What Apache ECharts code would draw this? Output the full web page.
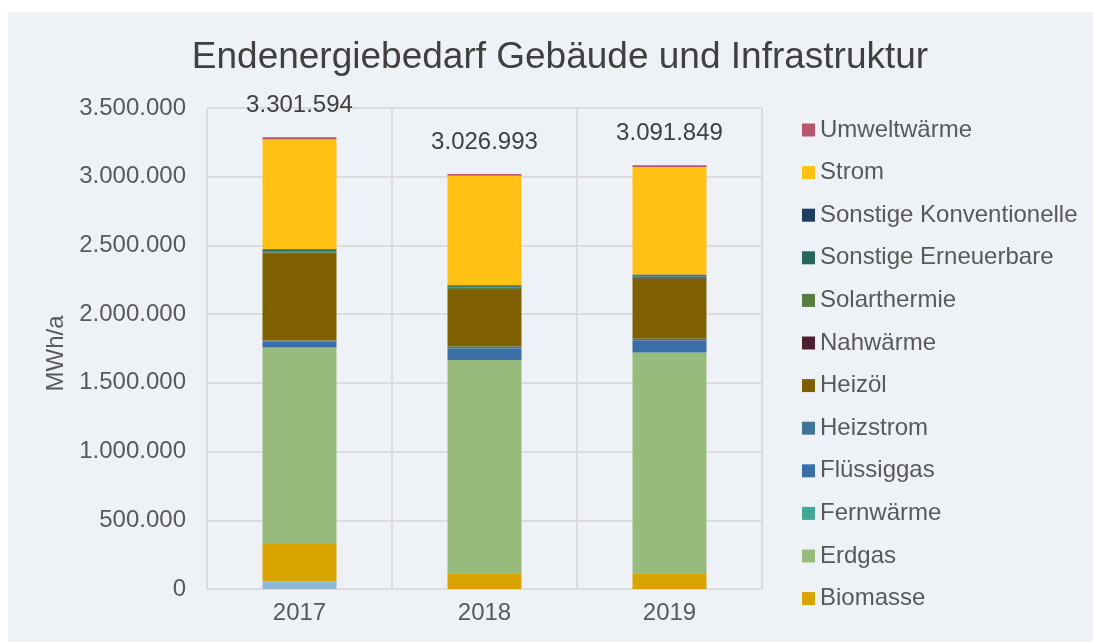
<!DOCTYPE html>
<html>
<head>
<meta charset="utf-8">
<script src="https://cdn.jsdelivr.net/npm/echarts@6/dist/echarts.min.js"></script>
<style>
    html, body { margin: 0; padding: 0; background: #ffffff; }
    #chart { position: absolute; left: 8px; top: 12px; width: 1085px; height: 630px; background: #eef2f6; }
</style>
</head>
<body>
<div id="chart"></div>
<script>
'use strict';

// Jahre
var years = ['2017', '2018', '2019'];

// Summen (Beschriftung über den Säulen)
var totals = [3301594, 3026993, 3091849];

// Werte je Energieträger in MWh/a (von unten nach oben gestapelt)
var ohneZuordnung = [57000, 0, 0];
var biomasse = [270000, 115000, 115000];
var erdgas = [1430000, 1551000, 1606000];
var fernwaerme = [0, 0, 0];
var fluessiggas = [45000, 84000, 85000];
var heizstrom = [6000, 14000, 15000];
var heizoel = [635000, 411000, 435000];
var nahwaerme = [3000, 6000, 5000];
var solarthermie = [11000, 12000, 12000];
var sonstigeErneuerbare = [10000, 10000, 10000];
var sonstigeKonventionelle = [5000, 8000, 6000];
var strom = [798000, 796000, 781000];
var umweltwaerme = [17000, 12000, 14000];

// Legendenreihenfolge wie im Original (oben nach unten)
var legendNames = ['Umweltwärme', 'Strom', 'Sonstige Konventionelle', 'Sonstige Erneuerbare',
    'Solarthermie', 'Nahwärme', 'Heizöl', 'Heizstrom', 'Flüssiggas', 'Fernwärme', 'Erdgas', 'Biomasse'];

var textColor = '#595959';
var fontName = '"Liberation Sans", Arial, sans-serif';
var fs = 24;

// Zahlen mit Punkt als Tausendertrennzeichen
function formatDe(v) {
    return String(Math.round(v)).replace(/\B(?=(\d{3})+(?!\d))/g, '.');
}

function makeSeries(name, data, color, withLabel) {
    var s = {
        name: name,
        type: 'bar',
        stack: 'gesamt',
        barWidth: 74,
        data: data,
        itemStyle: { color: color },
        emphasis: { disabled: true }
    };
    if (withLabel) {
        s.label = {
            show: true,
            position: 'top',
            distance: 20,
            color: '#404040',
            fontSize: fs,
            fontFamily: fontName,
            formatter: function (p) { return formatDe(totals[p.dataIndex]); }
        };
    }
    return s;
}

var series = [
    makeSeries('ohne Zuordnung', ohneZuordnung, '#8fb8d6'),
    makeSeries('Biomasse', biomasse, '#d9a300'),
    makeSeries('Erdgas', erdgas, '#97bb7d'),
    makeSeries('Fernwärme', fernwaerme, '#41a797'),
    makeSeries('Flüssiggas', fluessiggas, '#3a6ea6'),
    makeSeries('Heizstrom', heizstrom, '#40759a'),
    makeSeries('Heizöl', heizoel, '#7f6000'),
    makeSeries('Nahwärme', nahwaerme, '#4f1f30'),
    makeSeries('Solarthermie', solarthermie, '#587d3d'),
    makeSeries('Sonstige Erneuerbare', sonstigeErneuerbare, '#28685c'),
    makeSeries('Sonstige Konventionelle', sonstigeKonventionelle, '#1f3d60'),
    makeSeries('Strom', strom, '#ffc214'),
    makeSeries('Umweltwärme', umweltwaerme, '#b9566f', true)
];

var chart = echarts.init(document.getElementById('chart'));

var option = {
    animation: false,
    textStyle: { fontFamily: fontName },
    title: {
        text: 'Endenergiebedarf Gebäude und Infrastruktur',
        left: 547,
        textAlign: 'center',
        top: 22,
        textStyle: { fontSize: 37, fontWeight: 'normal', color: '#404040', fontFamily: fontName }
    },
    legend: {
        data: legendNames,
        orient: 'vertical',
        left: 789,
        top: 101,
        itemWidth: 13,
        itemHeight: 13,
        itemGap: 18.6,
        icon: 'rect',
        selectedMode: false,
        textStyle: { fontSize: fs, color: textColor, lineHeight: 24, fontFamily: fontName }
    },
    grid: {
        left: 199,
        right: 331,
        top: 96,
        bottom: 53
    },
    xAxis: {
        type: 'category',
        data: years,
        axisTick: { show: false },
        axisLine: { lineStyle: { color: '#dcdcdc', width: 2 } },
        splitLine: { show: true, lineStyle: { color: '#dcdcdc', width: 2 } },
        axisLabel: { fontSize: fs, color: textColor, margin: 12, fontFamily: fontName }
    },
    yAxis: {
        type: 'value',
        min: 0,
        max: 3500000,
        interval: 500000,
        name: 'MWh/a',
        nameLocation: 'middle',
        nameGap: 136,
        nameTextStyle: { fontSize: fs, color: textColor, fontFamily: fontName, padding: [0, 10, 0, 0] },
        axisLine: { show: false },
        axisTick: { show: false },
        splitLine: { lineStyle: { color: '#dcdcdc', width: 2 } },
        axisLabel: {
            fontSize: fs,
            color: textColor,
            margin: 21,
            fontFamily: fontName,
            formatter: function (v) { return formatDe(v); }
        }
    },
    series: series
};

chart.setOption(option);
</script>
</body>
</html>
